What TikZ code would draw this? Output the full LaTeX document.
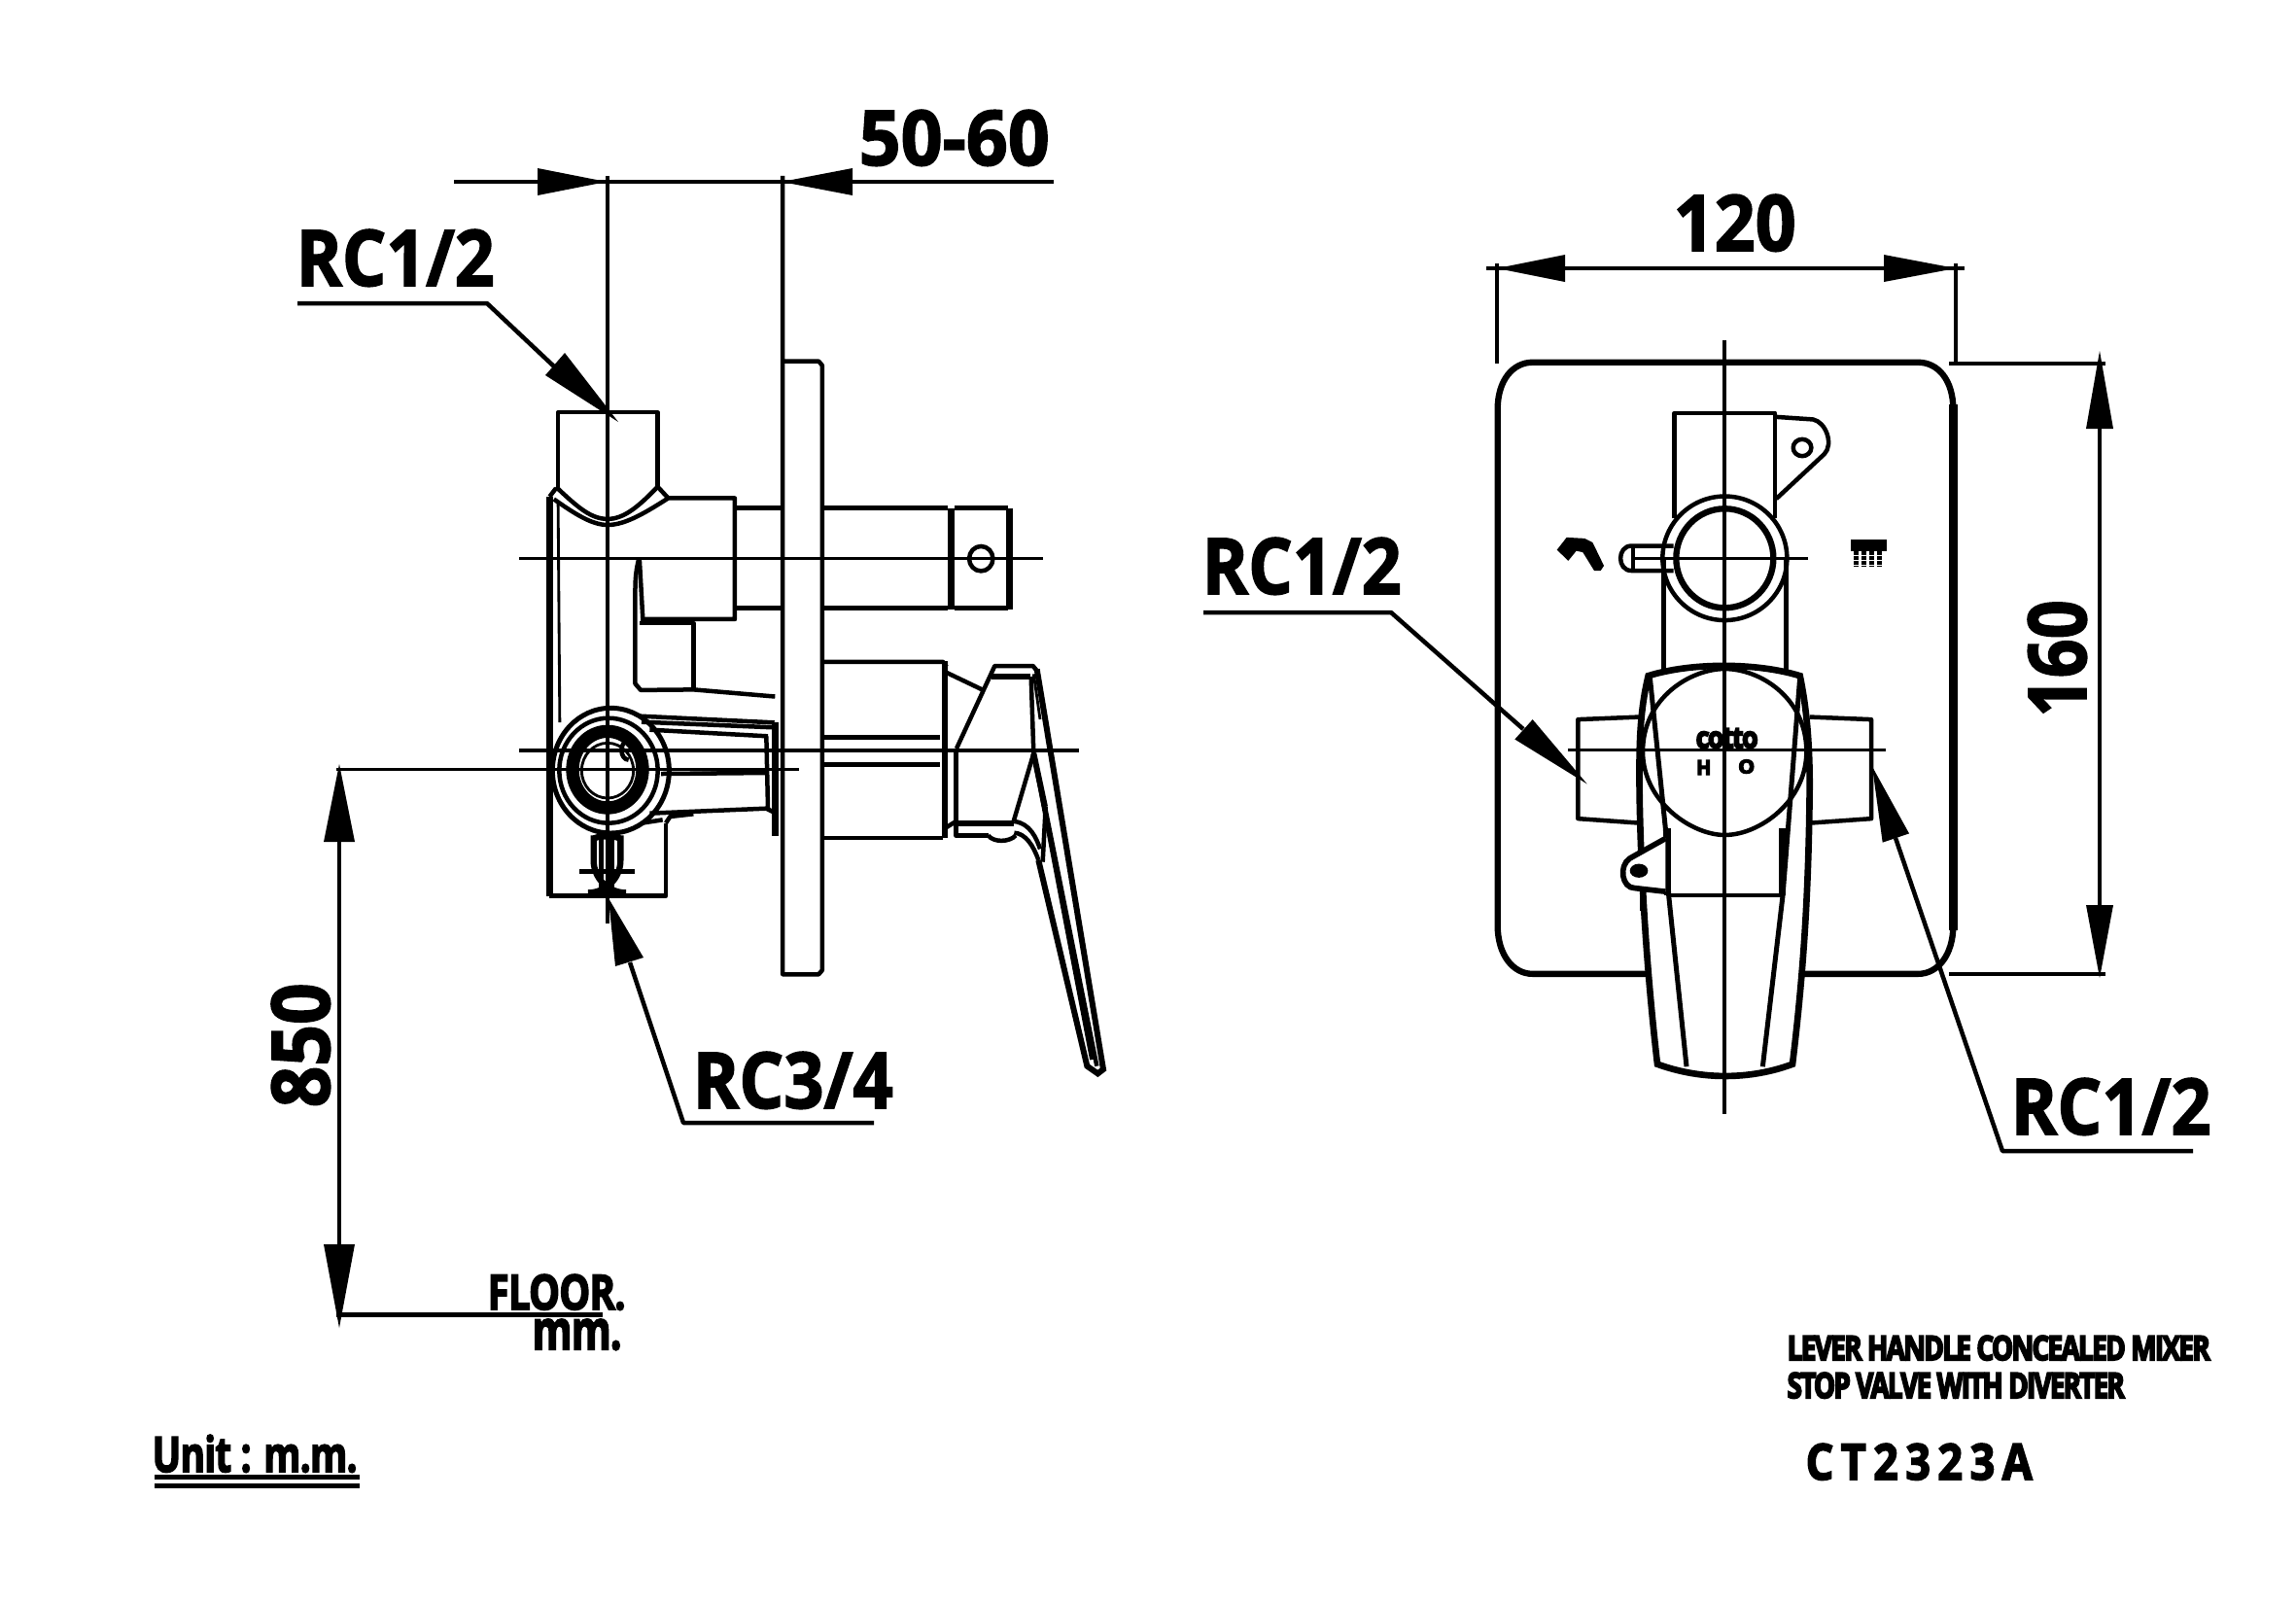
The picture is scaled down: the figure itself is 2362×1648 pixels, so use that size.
\documentclass[tikz,border=0pt]{standalone}
\usepackage{graphicx}
\usepackage{fontspec}
\setmainfont{Open Sans}
\newfontfamily\heavy{Open Sans}[BoldFeatures={FakeBold=2}]
\newfontfamily\heavier{Open Sans}[BoldFeatures={FakeBold=3.5},LetterSpace=-2]
\newfontfamily\heaviest{Open Sans}[BoldFeatures={FakeBold=6},LetterSpace=-6]
\newcommand{\fit}[3]{\resizebox{#1\pxu}{#2\pxu}{\heavy\bfseries #3}}
\newcommand{\fitb}[3]{\resizebox{#1\pxu}{#2\pxu}{\heavier\bfseries #3}}
\newcommand{\fitc}[3]{\resizebox{#1\pxu}{#2\pxu}{\heaviest\bfseries #3}}
\newlength{\pxu}\setlength{\pxu}{0.3pt}
\tikzset{
  ln/.style={line width=1.35pt,line cap=butt,line join=round},
  th/.style={line width=2.1pt,line join=round},
  tn/.style={line width=0.85pt,line join=round},
  ctr/.style={line width=1.0pt},
  txt/.style={inner sep=0pt,anchor=base west},
  zoomA/.style={shift={(500,340)},x=0.1308pt,y=-0.15306pt},
  zoomB/.style={shift={(1540,360)},x=0.1pt,y=-0.15306pt},
  zoomC/.style={shift={(540,700)},x=0.1pt,y=-0.1pt},
  zoomD/.style={shift={(960,660)},x=0.1pt,y=-0.1pt}
}
\begin{document}
\begin{tikzpicture}[x=0.3pt,y=-0.3pt]
\useasboundingbox (0,0) rectangle (2362,1648);
% ---------- LEFT VIEW ----------
\begin{scope}[zoomA]
 \draw[ln] (700,-312) -- (700,1298) -- (785,1298) -- (793,1290) -- (793,70) -- (785,62) -- (700,62);
 \draw[ln] (170,315) -- (170,165) -- (405,165) -- (405,315);
 \draw[ln] (165,315) .. controls (220,360) and (250,380) .. (287,380) .. controls (325,380) and (360,355) .. (405,315);
 \draw[ln] (150,335) -- (165,318);
 \draw[ln] (160,340) .. controls (210,370) and (250,392) .. (287,392) .. controls (330,392) and (380,365) .. (430,338) -- (587,338) -- (587,582) -- (365,582);
 \draw[ln] (405,315) -- (430,338);
 \draw[th] (150,335) -- (150,800);
 \draw[tn] (170,345) -- (174,790);
 \draw[ln] (362,460) -- (370,582);
 \draw[ln] (360,462) .. controls (352,490) and (352,510) .. (352,530) -- (352,712) -- (365,725) -- (490,724) -- (682,738);
 \draw[ln] (362,590) -- (490,590) -- (490,724);
 \draw[ln] (590,358) -- (700,358) (590,560) -- (700,560);
 \draw[ln] (793,358) -- (1090,358) (793,560) -- (1090,560);
 \draw[th] (1098,358) -- (1098,562);
 \draw[ln] (1105,358) -- (1232,358) (1105,560) -- (1232,560);
 \draw[th] (1235,358) -- (1235,562);
 \draw[ln] (1168,460) ellipse (28 and 25);
 % centre lines
 \draw[ctr] (78,460) -- (1315,460);
 \draw[ctr] (78,847) -- (1400,847);
 \draw[ctr] (-353,885) -- (738,885);
 \draw[ctr] (287,-312) -- (287,1195);
 % lever body
 \draw[ln] (793,668) -- (1078,668) -- (1087,678);
 \draw[ln] (1078,1023) -- (793,1023);
 \draw[ln] (793,820) -- (1072,820) (793,875) -- (1072,875);
\end{scope}
% boss and drain
\begin{scope}[zoomC]
 \draw[line width=1.5pt] (265,278) ellipse (180 and 193);
 \draw[ln] (258,278) ellipse (152 and 162);
 \draw[line width=4pt] (255,275) ellipse (108 and 118);
 \draw[tn] (255,278) ellipse (80 and 85);
 \draw[ln] (320,245) arc (90:270:22 and 30);
 \draw[ln] (355,110) -- (770,130);
 \draw[ln] (360,128) -- (770,145);
 \draw[ln] (385,152) -- (750,172);
 \draw[ln] (420,288) -- (750,285);
 \draw[line width=0.5pt] (500,285) -- (750,278);
 \draw[ln] (385,410) -- (745,395) -- (765,405);
 \draw[ln] (360,440) -- (425,430);
 \draw[ln] (745,172) -- (750,395);
 \draw[th] (772,130) -- (772,480);
 \draw[ln] (435,440) -- (435,665) -- (75,665);
 \draw[th] (75,665) -- (75,0);
 \draw[ln] (435,440) -- (448,420) -- (520,412);
 \draw[line width=1.9pt,rounded corners=10pt] (212,478) -- (212,655) -- (295,655) -- (295,478);
 \draw[line width=1.9pt] (212,490) .. controls (215,478) and (290,478) .. (295,490);
 \draw[ln] (168,590) -- (338,590);
 \draw[ln] (236,490) -- (236,640) (268,490) -- (268,640);
\end{scope}
% lever
\begin{scope}[zoomD]
 \draw[line width=1.8pt] (35,60) -- (35,605);
 \draw[ln] (40,95) -- (155,150);
 \draw[ln] (38,575) -- (70,555);
 \draw[ln] (72,330) -- (190,75) -- (308,75) -- (320,90);
 \draw[line width=1.9pt] (180,108) -- (300,108);
 \draw[ln] (70,335) -- (70,598) -- (170,598);
 \draw[line width=1.8pt] (70,562) -- (250,562);
 \draw[ln] (170,598) .. controls (185,620) and (235,620) .. (255,598);
 \draw[ln] (248,555) -- (310,345);
 \draw[ln] (302,108) -- (310,345);
 \draw[line width=1.8pt] (320,85) -- (525,1320) -- (508,1333) -- (475,1310) -- (325,675);
 \draw[ln] (250,555) .. controls (300,560) and (320,610) .. (330,640);
 \draw[ln] (250,590) .. controls (285,592) and (310,630) .. (325,675);
 \draw[line width=1.8pt] (310,345) -- (345,510);
 \draw[ln] (345,510) -- (505,1310);
 \draw[ln] (310,345) -- (490,1290);
 \draw[ln] (347,510) -- (338,680);
 \draw[tn] (310,100) -- (330,240);
\end{scope}
% arrows left view
\fill (553,173) -- (624,187) -- (553,201) -- cycle;
\fill (877,173) -- (804,187) -- (877,201) -- cycle;
\draw[ln] (467,187) -- (1084,187);
\node[txt] (dimA) at (883,170) {\fit{196}{57}{50-60}};
\node[txt] (rcA) at (304,294) {\fit{204}{58}{RC1/2}};
\draw[ln] (306,312) -- (501,312) -- (570,377);
\fill (561,386) -- (581,363) -- (636,434) -- cycle;
\node[txt] (rcB) at (712,1140) {\fit{206}{58}{RC3/4}};
\draw[ln] (899,1155) -- (703,1155) -- (648,990);
\fill (633,994) -- (662,985) -- (626,924) -- cycle;
\draw[ln] (349,866) -- (349,1285);
\fill (333,866) -- (349,786) -- (365,866) -- cycle;
\fill (333,1280) -- (349,1366) -- (365,1280) -- cycle;
\draw[line width=1.5pt] (346,1352) -- (620,1352);
\node[txt,rotate=90] (dimC) at (339,1140) {\fit{128}{60}{850}};
\node[txt] (floorA) at (501,1347) {\fitb{142}{36}{FLOOR.}};
\node[txt] (floorB) at (547,1388) {\fitb{92}{31}{mm.}};
\node[txt] (unit) at (156,1514) {\fitb{211}{38}{Unit : m.m.}};
\draw[line width=1.5pt] (159,1519) -- (370,1519) (159,1528) -- (370,1528);
% ---------- RIGHT VIEW ----------
\draw[ln] (1540,271) -- (1540,374);
\draw[ln] (2012,271) -- (2012,374);
\draw[ln] (2005,374) -- (2166,374) (2005,1002) -- (2166,1002);
\begin{scope}[zoomB]
 \draw[line width=1.9pt] (1408,120) .. controls (1408,60) and (1360,25) .. (1300,25) -- (110,25) .. controls (50,25) and (2,60) .. (2,120) -- (2,1160) .. controls (2,1220) and (50,1258) .. (110,1258) -- (1300,1258) .. controls (1360,1258) and (1408,1220) .. (1408,1160);
 \draw[line width=2.6pt] (1408,110) -- (1408,1170);
 \draw[ln] (548,340) -- (548,127) -- (858,127) -- (858,340);
 \draw[ln] (862,135) -- (975,140) .. controls (1015,145) and (1040,190) .. (1010,210) -- (862,300);
 \draw[ln] (942,197) ellipse (28 and 17);
 \draw[ln] (703,420) ellipse (192 and 125);
 \draw[line width=1.9pt] (703,420) ellipse (150 and 100);
 \draw[ln] (515,420) -- (515,690) (893,420) -- (893,690);
 \draw[ln] (545,395) -- (415,395) .. controls (370,395) and (370,445) .. (415,445) -- (545,445);
 \draw[ln] (420,397) -- (420,443);
 \draw[ctr] (415,420) -- (960,420);
 % icons
 \fill (185,403) -- (215,378) -- (270,380) -- (295,388) -- (330,435) -- (320,445) -- (300,445) -- (265,408) -- (245,405) -- (220,425) -- cycle;
 \fill (1092,382) rectangle (1203,405);
 \foreach \i in {1108,1132,1156,1180} {\draw[line width=1.6pt,dash pattern=on 1.3pt off 0.2pt] (\i,405) -- (\i,436);}
 % wings
 \draw[ln] (440,740) -- (250,745) -- (250,945) -- (510,957);
 \draw[ln] (965,740) -- (1155,745) -- (1155,945) -- (895,957);
 % handle outline
 \filldraw[fill=white,line width=2pt] (467,657) .. controls (440,730) and (438,800) .. (440,900) .. controls (445,1100) and (470,1300) .. (495,1440) .. controls (630,1472) and (780,1472) .. (912,1440) .. controls (945,1260) and (962,1100) .. (965,880) .. controls (965,790) and (955,720) .. (935,657) .. controls (800,630) and (600,630) .. (467,657) -- cycle;
 \draw[ln] (450,810) .. controls (450,700) and (600,643) .. (703,643) .. controls (810,643) and (955,700) .. (955,810) .. controls (955,910) and (810,978) .. (703,978) .. controls (600,978) and (450,910) .. (450,810) -- cycle;
 \draw[line width=1.5pt] (472,660) -- (520,965) -- (530,1100) -- (585,1445);
 \draw[line width=1.5pt] (935,660) -- (882,1100) -- (820,1445);
 \draw[th] (525,965) -- (525,1100) (880,965) -- (880,1100);
 \draw[ln] (525,1100) -- (882,1100);
 \draw[line width=1.7pt,fill=white] (520,985) -- (410,1025) .. controls (375,1040) and (385,1085) .. (425,1085) -- (520,1092);
 \fill (438,1050) ellipse (28 and 14);
 \draw[ln] (448,1085) -- (448,1130);
 % centre lines
 \draw[ctr] (220,807) -- (1200,807);
 \draw[line width=1.2pt] (703,-20) -- (703,1540);
 \node[inner sep=0pt] (logo) at (710,783) {\fitc{64}{20}{cotto}};
 \node[inner sep=0pt] (hlab) at (638,842) {\fitc{15}{15}{H}};
 \node[inner sep=0pt] (olab) at (770,840) {\fitc{17}{14}{O}};
 % arrows
 \fill (55,785) -- (110,745) -- (278,875) -- cycle;
 \fill (1190,993) -- (1272,975) -- (1158,840) -- cycle;
\end{scope}
% dims right view
\draw[ln] (1529,276) -- (2021,276);
\fill (1610,262) -- (1540,276) -- (1610,290) -- cycle;
\fill (1938,262) -- (2012,276) -- (1938,290) -- cycle;
\node[txt] (dimD) at (1721,258) {\fit{126}{58}{120}};
\draw[ln] (2160,441) -- (2160,931);
\fill (2146,441) -- (2160,361) -- (2174,441) -- cycle;
\fill (2146,931) -- (2160,1006) -- (2174,931) -- cycle;
\node[txt,rotate=90] (dimE) at (2146,738) {\fit{120}{60}{160}};
\node[txt] (rcC) at (1236,611) {\fit{205}{58}{RC1/2}};
\draw[ln] (1238,630) -- (1431,630) -- (1567,750);
\node[txt] (rcD) at (2068,1167) {\fit{206}{58}{RC1/2}};
\draw[ln] (2256,1184) -- (2060,1184) -- (1950,862);
\node[txt] (t1) at (1838,1399) {\fitc{435}{25}{LEVER HANDLE CONCEALED MIXER}};
\node[txt] (t2) at (1838,1438) {\fitc{347}{26}{STOP VALVE WITH DIVERTER}};
\node[txt] (t3) at (1857,1522) {\fitb{233}{37}{C\,T\,2\,3\,2\,3\,A}};
\end{tikzpicture}
\end{document}
